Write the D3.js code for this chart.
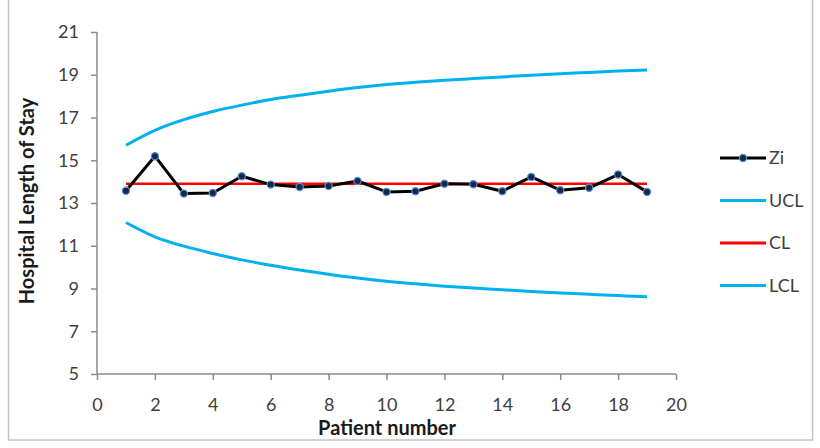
<!DOCTYPE html>
<html>
<head>
<meta charset="utf-8">
<script src="https://cdn.jsdelivr.net/npm/d3@7"></script>
<style>
  html, body { margin: 0; padding: 0; background: #fff; }
  svg { display: block; font-family: Lato, "Open Sans", sans-serif; }
</style>
</head>
<body>
<svg id="chart" width="820" height="448"></svg>
<script>
// Patient numbers and control chart series
const patients = [1, 2, 3, 4, 5, 6, 7, 8, 9, 10, 11, 12, 13, 14, 15, 16, 17, 18, 19];
const zi  = [13.57, 15.19, 13.44, 13.47, 14.25, 13.86, 13.75, 13.80, 14.03, 13.52,
             13.55, 13.90, 13.88, 13.55, 14.22, 13.60, 13.71, 14.33, 13.52];
const ucl = [15.70, 16.40, 16.90, 17.28, 17.58, 17.84, 18.04, 18.23, 18.40, 18.54,
             18.65, 18.74, 18.82, 18.90, 18.98, 19.05, 19.11, 19.17, 19.22];
const cl  = [13.90, 13.90, 13.90, 13.90, 13.90, 13.90, 13.90, 13.90, 13.90, 13.90,
             13.90, 13.90, 13.90, 13.90, 13.90, 13.90, 13.90, 13.90, 13.90];
const lcl = [12.09, 11.42, 10.98, 10.64, 10.34, 10.09, 9.87, 9.67, 9.49, 9.34,
             9.22, 9.11, 9.02, 8.94, 8.86, 8.79, 8.73, 8.67, 8.61];
const xTicks = [0, 2, 4, 6, 8, 10, 12, 14, 16, 18, 20];
const yTicks = [5, 7, 9, 11, 13, 15, 17, 19, 21];
const seriesNames = ["Zi", "UCL", "CL", "LCL"];

const colors = { Zi: "#000000", UCL: "#00b0f0", CL: "#ff0000", LCL: "#00b0f0" };

const svg = d3.select("#chart");

// outer frame
svg.append("rect")
  .attr("x", 8.5).attr("y", -2).attr("width", 804).attr("height", 442)
  .attr("fill", "none").attr("stroke", "#c4c4c4").attr("stroke-width", 1.5);

const x = d3.scaleLinear().domain([0, 20]).range([97, 676]);
const y = d3.scaleLinear().domain([5, 21]).range([374, 32]);

const axisColor = "#8c8c8c";

// y axis
const gy = svg.append("g").attr("transform", "translate(97,0)")
  .call(d3.axisLeft(y).tickValues(yTicks).tickSize(6).tickPadding(12).tickFormat(d3.format("d")));
// x axis
const gx = svg.append("g").attr("transform", "translate(0,374)")
  .call(d3.axisBottom(x).tickValues(xTicks).tickSize(6).tickPadding(18).tickFormat(d3.format("d")));

[gx, gy].forEach(g => {
  g.select(".domain").attr("stroke", axisColor).attr("stroke-width", 1.5);
  g.selectAll(".tick line").attr("stroke", axisColor).attr("stroke-width", 1.5);
  g.selectAll(".tick text").attr("fill", "#404040")
    .style("font-family", "Lato, 'Open Sans', sans-serif").style("font-size", "18px");
});
// plain axis lines without the end ticks
gy.select(".domain").attr("d", `M0,${y(5)}V${y(21)}`);
gx.select(".domain").attr("d", `M${x(0)},0H${x(20)}`);

// axis titles
svg.append("text")
  .attr("transform", `translate(34,201) rotate(-90)`)
  .attr("text-anchor", "middle")
  .attr("font-weight", "bold").attr("font-size", 20).attr("fill", "#1a1a1a")
  .text("Hospital Length of Stay");
svg.append("text")
  .attr("x", 387).attr("y", 435)
  .attr("text-anchor", "middle")
  .attr("font-weight", "bold").attr("font-size", 20).attr("fill", "#1a1a1a")
  .text("Patient number");

const line = d3.line().x((d, i) => x(patients[i])).y(d => y(d));
const curve = d3.line().x((d, i) => x(patients[i])).y(d => y(d)).curve(d3.curveMonotoneX);

svg.append("path").datum(ucl).attr("d", curve)
  .attr("fill", "none").attr("stroke", colors.UCL).attr("stroke-width", 3);
svg.append("path").datum(lcl).attr("d", curve)
  .attr("fill", "none").attr("stroke", colors.LCL).attr("stroke-width", 3);
svg.append("path").datum(cl).attr("d", line)
  .attr("fill", "none").attr("stroke", colors.CL).attr("stroke-width", 2.5);
svg.append("path").datum(zi).attr("d", line)
  .attr("fill", "none").attr("stroke", colors.Zi).attr("stroke-width", 3)
  .attr("stroke-linejoin", "round");
svg.append("g").selectAll("circle").data(zi).join("circle")
  .attr("cx", (d, i) => x(patients[i])).attr("cy", d => y(d)).attr("r", 3.6)
  .attr("fill", "#14284b").attr("stroke", "#5b8fd0").attr("stroke-width", 1.2);

// legend
const legend = svg.append("g");
seriesNames.forEach((name, i) => {
  const ly = 158 + i * 42.5;
  legend.append("line")
    .attr("x1", 720).attr("x2", 766).attr("y1", ly).attr("y2", ly)
    .attr("stroke", colors[name]).attr("stroke-width", 3);
  if (name === "Zi") {
    legend.append("circle").attr("cx", 743).attr("cy", ly).attr("r", 3.6)
      .attr("fill", "#14284b").attr("stroke", "#5b8fd0").attr("stroke-width", 1.2);
  }
  legend.append("text")
    .attr("x", 769).attr("y", ly).attr("dy", "0.35em")
    .attr("font-size", 18).attr("fill", "#404040")
    .text(name);
});
</script>
</body>
</html>
